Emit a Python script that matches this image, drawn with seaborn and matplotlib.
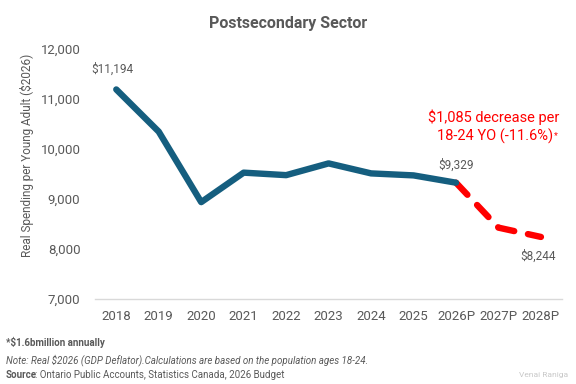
import pandas as pd
import matplotlib.pyplot as plt
import seaborn as sns

years = ["2018", "2019", "2020", "2021", "2022", "2023", "2024", "2025", "2026P", "2027P", "2028P"]
spending = [11194, 10350, 8940, 9530, 9480, 9715, 9515, 9475, 9329, 8430, 8244]
n_actual = 9  # up to and including 2026P

GREY = "#595959"
BLUE = "#155E7F"
RED = "#FF0000"

sns.set_theme(style="white")
plt.rcParams["font.family"] = ["Roboto", "DejaVu Sans"]

df = pd.DataFrame({"year": years, "value": spending, "pos": range(len(years))})
hist = df.iloc[:n_actual]
proj = df.iloc[n_actual - 1:]

fig, ax = plt.subplots(figsize=(5.76, 3.84), dpi=100)
fig.subplots_adjust(left=0.165, right=0.976, top=0.872, bottom=0.221)

sns.lineplot(data=hist, x="pos", y="value", color=BLUE, linewidth=4.6, ax=ax,
             solid_capstyle="round", solid_joinstyle="round")
sns.lineplot(data=proj, x="pos", y="value", color=RED, linewidth=4.6, ax=ax)
ax.lines[-1].set_dashes([2.6, 2.2])
ax.lines[-1].set_dash_capstyle("round")
ax.lines[0].set_zorder(3)

ax.set_xlim(-0.5, len(years) - 0.5)
ax.set_ylim(7000, 12000)
ax.set_xticks(range(len(years)))
ax.set_xticklabels(years)
ax.set_yticks(range(7000, 12001, 1000))
ax.set_yticklabels([f"{v:,}" for v in range(7000, 12001, 1000)])
ax.tick_params(axis="both", colors=GREY, labelsize=9.5, length=0)
ax.tick_params(axis="x", pad=8)
ax.tick_params(axis="y", pad=10.5)

for side in ["top", "right", "left"]:
    ax.spines[side].set_visible(False)
ax.spines["bottom"].set_color("#D9D9D9")
ax.spines["bottom"].set_linewidth(1)

ax.set_xlabel("")
ax.set_ylabel("Real Spending per Young Adult ($2026)", color=GREY, fontsize=8.5)
ax.yaxis.set_label_coords(-0.13, 0.576)
fig.suptitle("Postsecondary Sector", x=0.5, y=0.94, va="center", color=GREY,
             fontsize=11.5, fontweight="bold")

# point labels
ax.annotate(f"${spending[0]:,}", (0, spending[0]), xytext=(-3, 10), textcoords="offset points",
            ha="center", va="bottom", color=GREY, fontsize=8.5)
ax.annotate(f"${spending[n_actual - 1]:,}", (n_actual - 1, spending[n_actual - 1]), xytext=(0, 8),
            textcoords="offset points", ha="center", va="bottom", color=GREY, fontsize=8.5)
ax.annotate(f"${spending[-1]:,}", (len(years) - 1, spending[-1]), xytext=(-2, -9),
            textcoords="offset points", ha="center", va="top", color=GREY, fontsize=8.5)

# red callout
drop = spending[n_actual - 1] - spending[-1]
pct = drop / spending[n_actual - 1] * 100
fig.text(0.972, 0.695, f"${drop:,} decrease per", color=RED, fontsize=10.5, ha="right", va="center")
fig.text(0.961, 0.646, f"18-24 YO (-{pct:.1f}%)", color=RED, fontsize=10.5, ha="right", va="center")
fig.text(0.962, 0.646, "*", color=RED, fontsize=6.5, ha="left", va="center")

# footer
fig.text(0.010, 0.107, "*$1.6bmillion annually", color=GREY, fontsize=7, fontweight="bold", va="center")
fig.text(0.010, 0.063, "Note: Real $2026 (GDP Deflator).Calculations are based on the population ages 18-24.",
         color=GREY, fontsize=7, style="italic", va="center")
fig.text(0.010, 0.023, "Source", color=GREY, fontsize=7, fontweight="bold", va="center")
fig.text(0.0605, 0.023, ": Ontario Public Accounts, Statistics Canada, 2026 Budget",
         color=GREY, fontsize=7, va="center")
fig.text(0.987, 0.023, "Venai Raniga", color="#C8C8C8", fontsize=6, ha="right", va="center")

fig.savefig("out.png", dpi=100)
